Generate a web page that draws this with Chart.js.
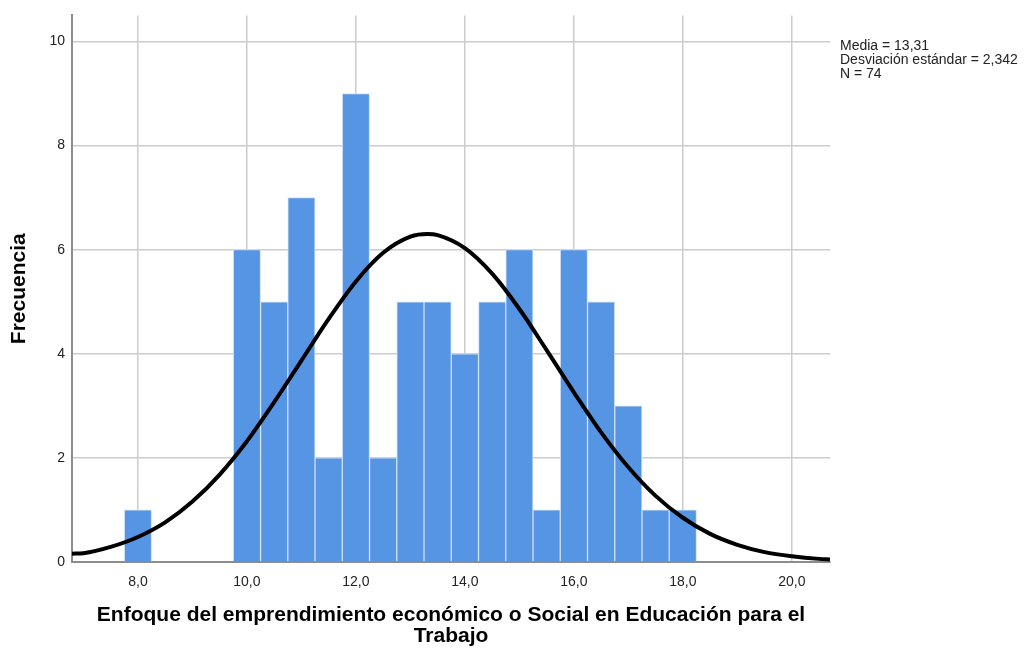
<!DOCTYPE html>
<html>
<head>
<meta charset="utf-8">
<script src="https://cdn.jsdelivr.net/npm/chart.js@4"></script>
<style>
body{margin:0;background:#fff}
</style>
</head>
<body>
<canvas id="histoChart" width="1030" height="648"></canvas>
<script>
// ---------------- datos del histograma ----------------
const binCenters = [8.0, 10.0, 10.5, 11.0, 11.5, 12.0, 12.5, 13.0, 13.5, 14.0, 14.5, 15.0, 15.5, 16.0, 16.5, 17.0, 17.5, 18.0];
const frecuencias = [1, 6, 5, 7, 2, 9, 2, 5, 5, 4, 5, 6, 1, 6, 5, 3, 1, 1];

// curva normal
const curvaX = [6.79, 7.0, 7.5, 8.0, 8.5, 9.0, 9.5, 10.0, 10.5, 11.0, 11.5, 12.0, 12.5, 13.0, 13.31, 13.5, 14.0, 14.5, 15.0, 15.5, 16.0, 16.5, 17.0, 17.5, 18.0, 18.5, 19.0, 19.5, 20.0, 20.5, 20.7];
const curvaY = [0.16, 0.17, 0.29, 0.48, 0.76, 1.16, 1.68, 2.32, 3.07, 3.87, 4.67, 5.39, 5.94, 6.25, 6.30, 6.28, 6.03, 5.54, 4.86, 4.07, 3.26, 2.49, 1.82, 1.27, 0.85, 0.54, 0.33, 0.19, 0.11, 0.06, 0.05];

const xTicks = [8, 10, 12, 14, 16, 18, 20];
const yTicks = [0, 2, 4, 6, 8, 10];
const estadisticas = ['Media = 13,31', 'Desviación estándar = 2,342', 'N = 74'];

const tituloX = ['Enfoque del emprendimiento económico o Social en Educación para el', 'Trabajo'];
const tituloY = 'Frecuencia';

const fuente = '"Liberation Sans", Arial, sans-serif';

// texto de estadisticas a la derecha
const statsPlugin = {
	id: 'stats',
	afterDraw(chart) {
		const c = chart.ctx;
		c.save();
		c.font = '14px ' + fuente;
		c.fillStyle = '#222';
		c.textBaseline = 'alphabetic';
		estadisticas.forEach(function(t, i) {
			c.fillText(t, chart.chartArea.right + 10, 50 + i * 14);
		});
		c.restore();
	}
};

const ctx = document.querySelector('#histoChart').getContext('2d');

const histo = new Chart(ctx, {
	type: 'bar',
	data: {
		datasets: [{
			type: 'line',
			data: curvaX.map(function(x, i) { return {x: x, y: curvaY[i]}; }),
			borderColor: '#000',
			borderWidth: 4,
			pointRadius: 0,
			cubicInterpolationMode: 'monotone',
			fill: false,
			order: 0
		}, {
			type: 'bar',
			data: binCenters.map(function(x, i) { return {x: x, y: frecuencias[i]}; }),
			backgroundColor: '#5694e4',
			borderColor: '#cfe0f6',
			borderWidth: 1,
			barPercentage: 1,
			categoryPercentage: 1,
			order: 1
		}]
	},
	options: {
		responsive: false,
		animation: false,
		layout: {
			padding: {top: 12, right: 200, left: 0, bottom: 0}
		},
		plugins: {
			legend: {display: false},
			tooltip: {enabled: false}
		},
		scales: {
			x: {
				type: 'linear',
				offset: false,
				min: 6.79,
				max: 20.7,
				afterBuildTicks: function(scale) {
					scale.ticks = xTicks.map(function(v) { return {value: v}; });
				},
				afterFit: function(scale) { scale.height = 86; },
				ticks: {
					color: '#222',
					padding: 12,
					font: {size: 14, family: fuente},
					callback: function(v) { return v.toFixed(1).replace('.', ','); }
				},
				grid: {color: '#cccccc', lineWidth: 1.5, drawTicks: false, offset: false},
				border: {color: '#8c8c8c', width: 2},
				title: {
					display: true,
					text: tituloX,
					color: '#000',
					font: {size: 21, weight: 'bold', family: fuente, lineHeight: 1.0},
					padding: {top: 0, bottom: 1}
				}
			},
			y: {
				min: 0,
				max: 10.5,
				afterBuildTicks: function(scale) {
					scale.ticks = yTicks.map(function(v) { return {value: v}; });
				},
				afterFit: function(scale) { scale.width = 72; },
				ticks: {
					color: '#222',
					padding: 7,
					font: {size: 14, family: fuente}
				},
				grid: {color: '#cccccc', lineWidth: 1.5, drawTicks: false},
				border: {color: '#8c8c8c', width: 2},
				title: {
					display: true,
					text: tituloY,
					color: '#000',
					font: {size: 21, weight: 'bold', family: fuente},
					padding: {top: 7, bottom: 0}
				}
			}
		}
	},
	plugins: [statsPlugin]
});
</script>
</body>
</html>
